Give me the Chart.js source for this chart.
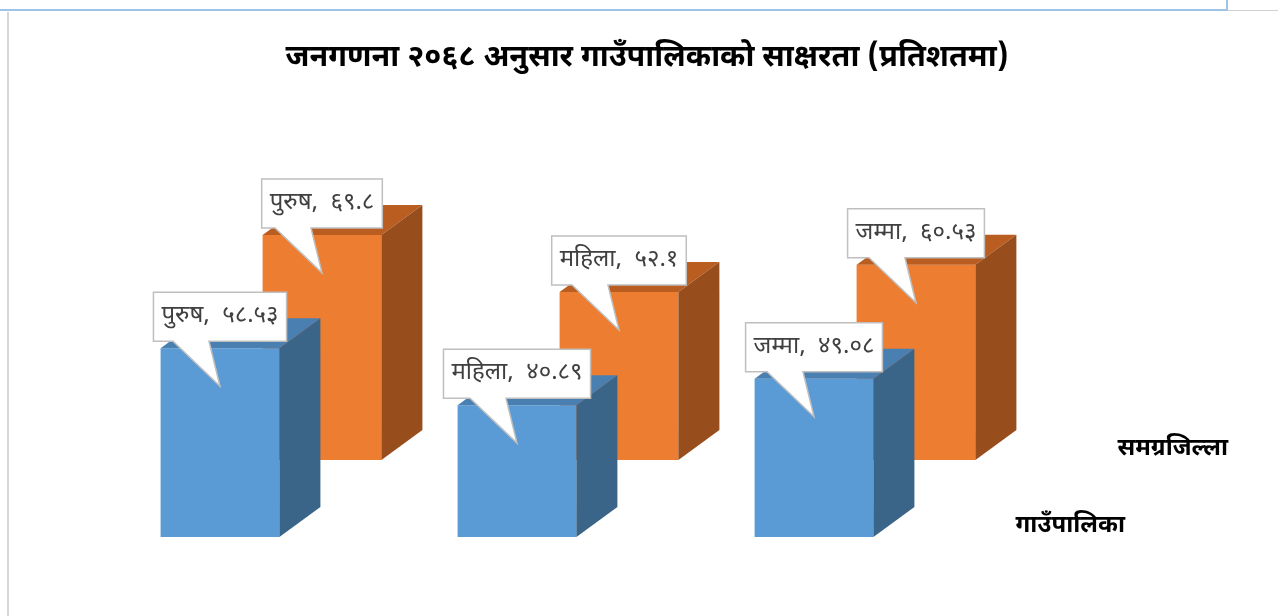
<!DOCTYPE html>
<html>
<head>
<meta charset="utf-8">
<script src="https://cdn.jsdelivr.net/npm/chart.js@4.4.1/dist/chart.umd.min.js"></script>
<style>
  html, body { margin: 0; padding: 0; background: #fff; overflow: hidden; }
  #wrap { position: relative; width: 1278px; height: 616px; }
  #chart { position: absolute; left: 0; top: 0; }
  .topbox { position: absolute; left: 0; top: 0; width: 1226px; height: 9px;
            border-bottom: 2px solid #9dc3e6; border-right: 2px solid #9dc3e6; }
  .topline { position: absolute; left: 1228px; top: 10px; width: 50px; height: 1px; background: #d0d0d0; }
  .leftline { position: absolute; left: 7px; top: 12px; width: 2px; height: 604px; background: #d6d6d6; }
</style>
</head>
<body>
<div id="wrap">
  <canvas id="chart" width="1278" height="616"></canvas>
  <div class="topbox"></div>
  <div class="topline"></div>
  <div class="leftline"></div>
</div>
<script>
const categories = ['पुरुष', 'महिला', 'जम्मा']
const seriesNames = ['गाउँपालिका', 'समग्रजिल्ला']
const gaupalika = [58.53, 40.89, 49.08]
const samagraJilla = [69.8, 52.1, 60.53]
// numbers shown in the callouts, as printed on the chart
const gaupalikaText = ['५८.५३', '४०.८९', '४९.०८']
const samagraText = ['६९.८', '५२.१', '६०.५३']
const titleText = 'जनगणना २०६८ अनुसार गाउँपालिकाको साक्षरता (प्रतिशतमा)'

const devFont = "'Noto Sans Devanagari', 'Noto Sans', 'DejaVu Sans', sans-serif"

// 3d look: each row is shifted back by this much, each bar gets a side + top face
const rowShift = [{ dx: 0, dy: 0 }, { dx: 102, dy: -77 }]
const depth = { dx: 41, dy: -30 }
const faceColors = [
  { front: '#5b9bd5', top: '#4a7fb2', side: '#3a6588' },
  { front: '#ed7d31', top: '#b95d20', side: '#984d1d' }
]

const bars3d = {
  id: 'bars3d',
  beforeDatasetDraw(chart, args) {
    const s = rowShift[args.index]
    chart.ctx.save()
    chart.ctx.translate(s.dx, s.dy)
  },
  afterDatasetDraw(chart, args) {
    const ctx = chart.ctx
    const c = faceColors[args.index]
    args.meta.data.forEach(bar => {
      const { x, y, base, width } = bar.getProps(['x', 'y', 'base', 'width'], true)
      const l = x - width / 2, r = x + width / 2
      // top
      ctx.fillStyle = c.top
      ctx.beginPath()
      ctx.moveTo(l, y)
      ctx.lineTo(r, y)
      ctx.lineTo(r + depth.dx, y + depth.dy)
      ctx.lineTo(l + depth.dx, y + depth.dy)
      ctx.closePath()
      ctx.fill()
      // side
      ctx.fillStyle = c.side
      ctx.beginPath()
      ctx.moveTo(r, y)
      ctx.lineTo(r + depth.dx, y + depth.dy)
      ctx.lineTo(r + depth.dx, base + depth.dy)
      ctx.lineTo(r, base)
      ctx.closePath()
      ctx.fill()
    })
    ctx.restore()
  }
}

const callouts = {
  id: 'callouts',
  afterDatasetsDraw(chart) {
    const ctx = chart.ctx
    const texts = [gaupalikaText, samagraText]
    const xs = chart.scales.x
    const ys = chart.scales.y
    ctx.save()
    // title
    ctx.font = 'bold 30.5px ' + devFont
    ctx.fillStyle = '#000'
    ctx.textAlign = 'center'
    ctx.textBaseline = 'middle'
    ctx.fillText(titleText, 647, 60)
    // depth axis labels (series names)
    ctx.font = 'bold 24px ' + devFont
    ctx.textAlign = 'left'
    seriesNames.forEach((name, i) => {
      const s = rowShift[i]
      ctx.fillText(name, xs.right + 53 + s.dx, ys.getPixelForValue(0) - 9 + s.dy)
    })
    // callouts, back row first
    ctx.font = '24px ' + devFont
    for (let i = 1; i >= 0; i--) {
      const meta = chart.getDatasetMeta(i)
      const s = rowShift[i]
      meta.data.forEach((bar, j) => {
        const cx = bar.x + s.dx
        const top = bar.y + s.dy
        const label = categories[j] + ',  ' + texts[i][j]
        const w = ctx.measureText(label).width + 16
        const h = 49
        const L = cx - w / 2, R = cx + w / 2
        const B = top - 7, T = B - h
        ctx.beginPath()
        ctx.moveTo(L, T)
        ctx.lineTo(R, T)
        ctx.lineTo(R, B)
        ctx.lineTo(cx - 11, B)
        ctx.lineTo(cx, top + 38)
        ctx.lineTo(cx - 47, B)
        ctx.lineTo(L, B)
        ctx.closePath()
        ctx.fillStyle = '#fff'
        ctx.fill()
        ctx.lineWidth = 1.5
        ctx.strokeStyle = '#bfbfbf'
        ctx.stroke()
        ctx.fillStyle = '#404040'
        ctx.textAlign = 'center'
        ctx.fillText(label, cx, T + h / 2 + 1)
      })
    }
    ctx.restore()
  }
}

new Chart(document.getElementById('chart'), {
  type: 'bar',
  data: {
    labels: categories,
    datasets: [
      { label: seriesNames[0], data: gaupalika, backgroundColor: faceColors[0].front, clip: false },
      { label: seriesNames[1], data: samagraJilla, backgroundColor: faceColors[1].front, clip: false }
    ]
  },
  options: {
    responsive: false,
    animation: false,
    layout: { padding: { left: 71.5, right: 315.5, top: 214.5, bottom: 79 } },
    datasets: { bar: { grouped: false, categoryPercentage: 1, barPercentage: 0.4 } },
    scales: {
      x: { display: false, offset: true },
      y: { display: false, min: 0, max: 100 }
    },
    plugins: {
      legend: { display: false },
      tooltip: { enabled: false },
      title: { display: false }
    }
  },
  plugins: [bars3d, callouts]
})
</script>
</body>
</html>
